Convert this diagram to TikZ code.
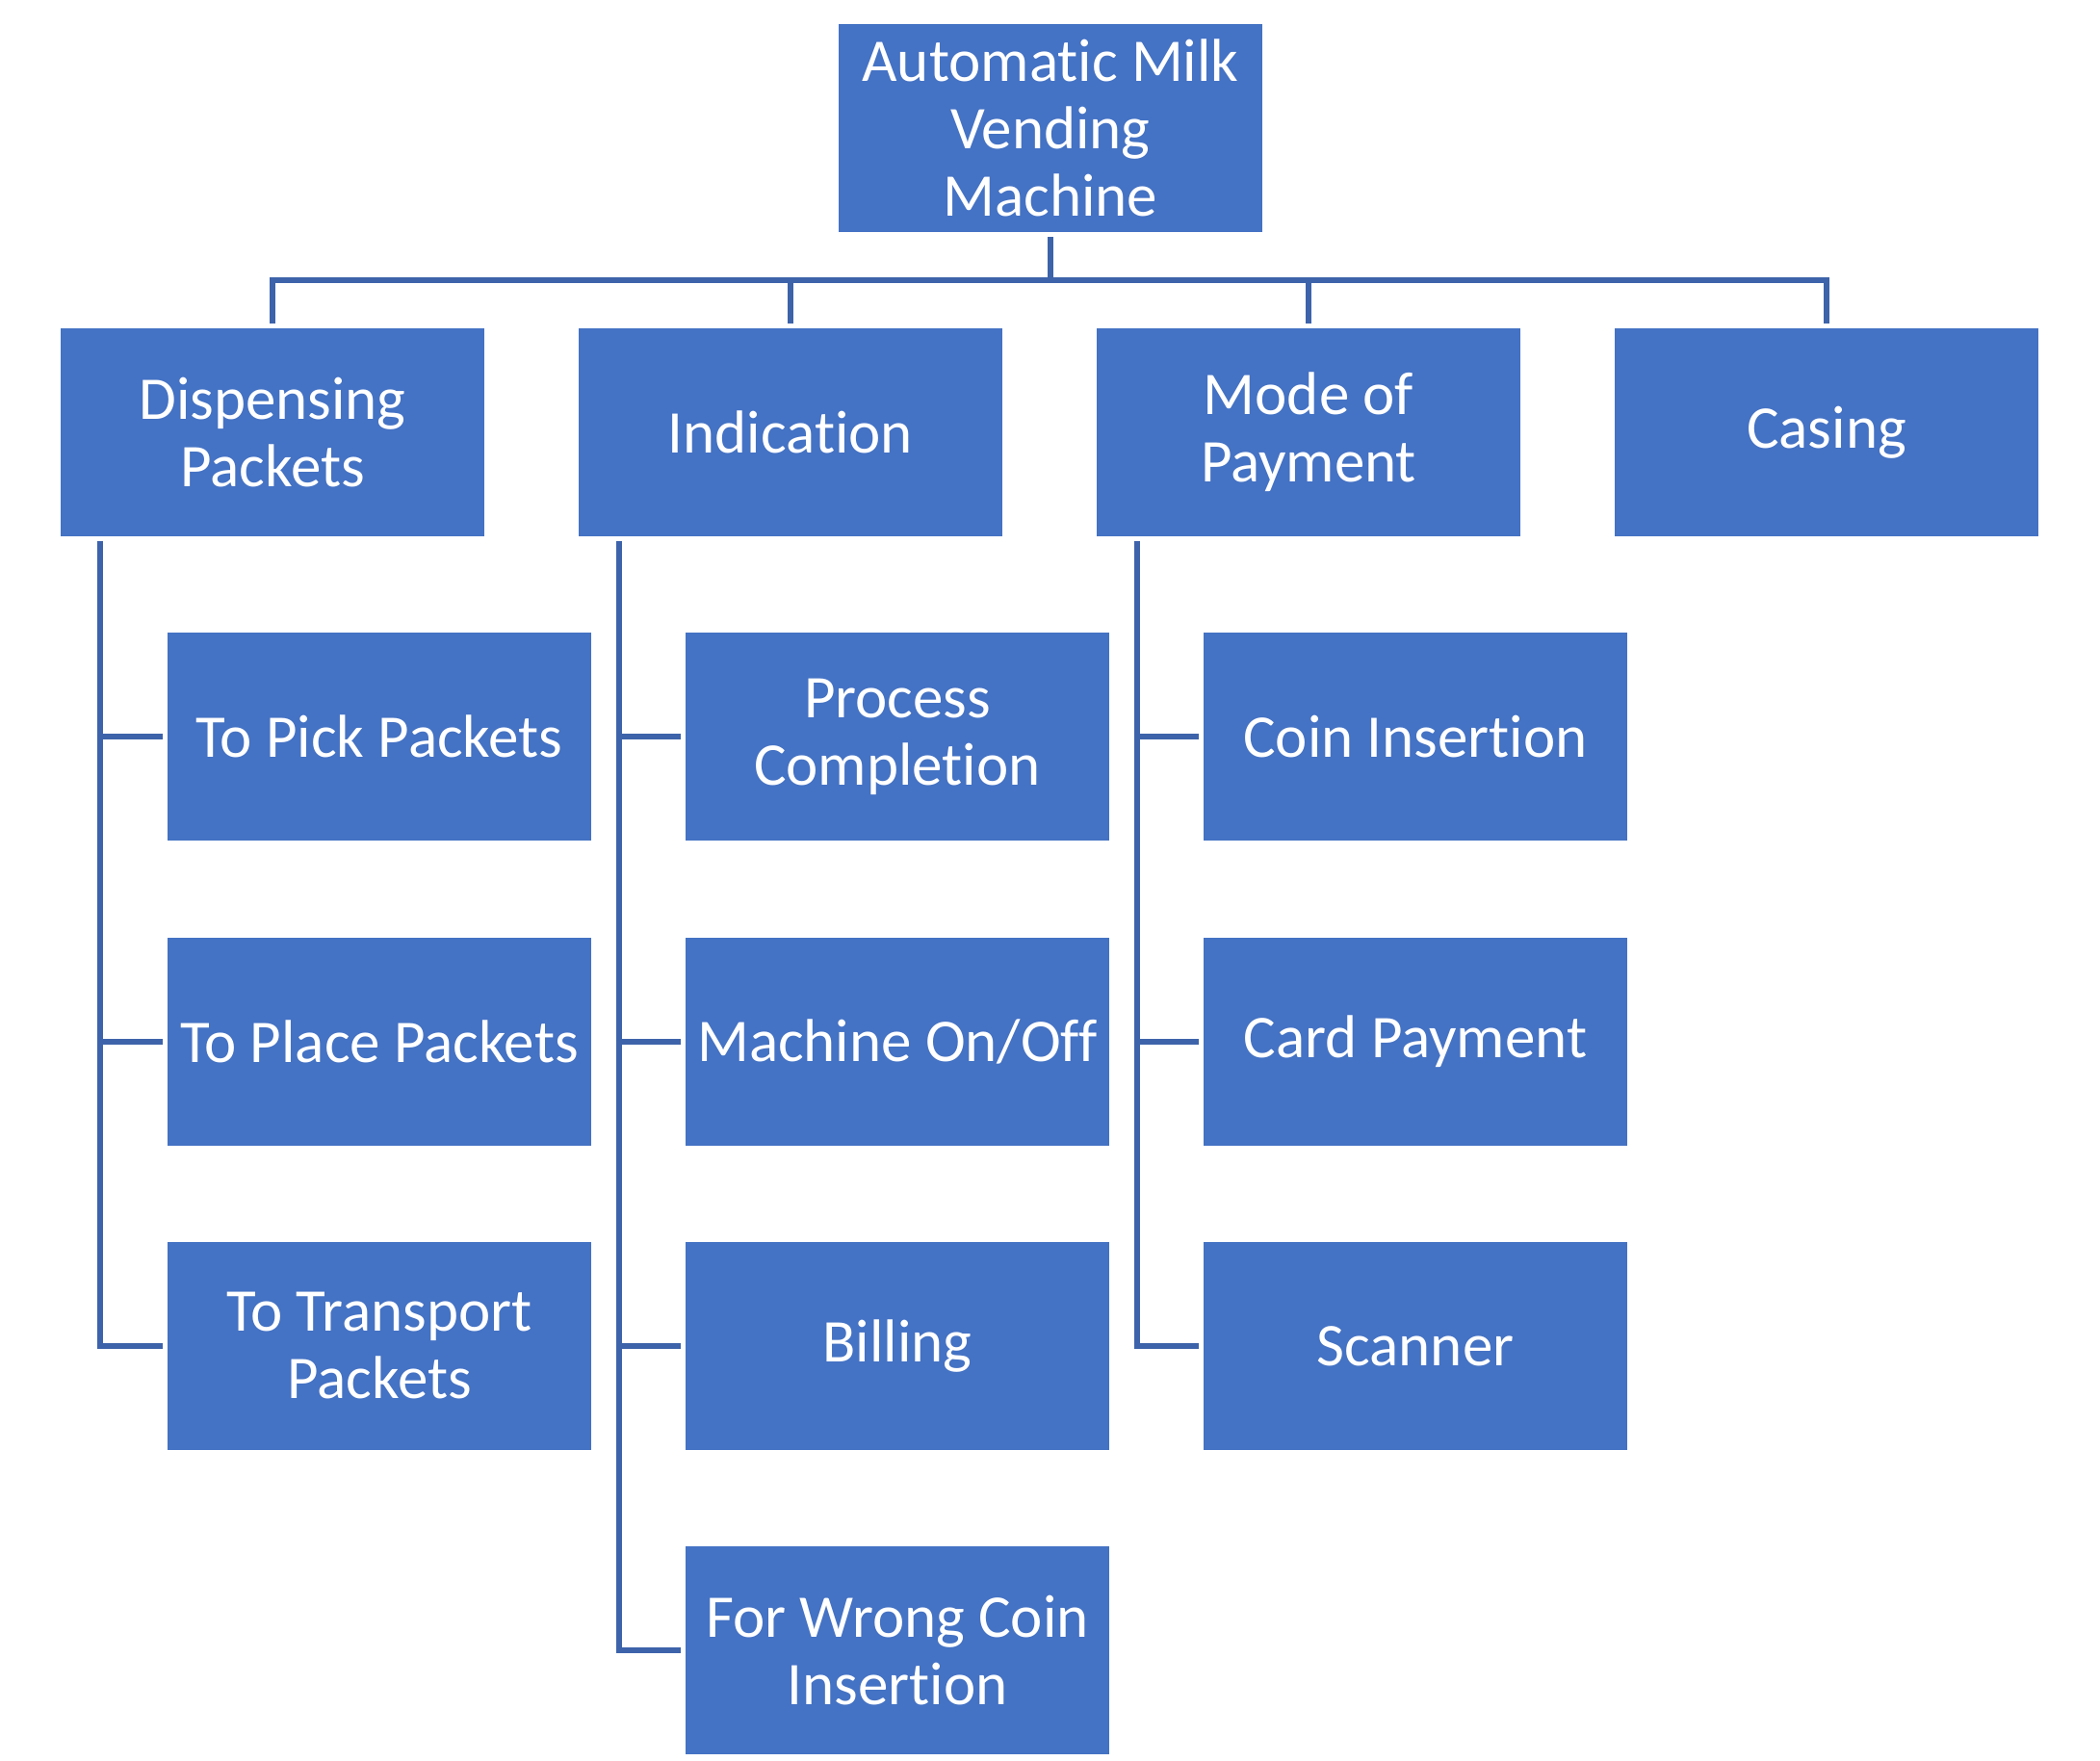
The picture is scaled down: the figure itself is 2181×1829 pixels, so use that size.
\documentclass[tikz,border=0pt]{standalone}
\usepackage{fontspec}
\setmainfont{Carlito}[Ligatures=NoCommon]
\definecolor{boxblue}{HTML}{4472C4}
\definecolor{lineblue}{HTML}{3D63AA}
\begin{document}
\begin{tikzpicture}[x=0.5pt,y=-0.5pt,
  box/.style={fill=boxblue,draw=none,text=white,minimum width=220pt,minimum height=108pt,
    inner sep=0pt,align=center,font=\fontsize{31.5pt}{35pt}\selectfont},
  conn/.style={draw=lineblue,line width=2.6pt,shorten <=2.5pt,shorten >=2.5pt}]
\useasboundingbox (0,0) rectangle (2181,1829);
% top
\node[box] (top) at (1091,133) {Automatic Milk\\Vending\\Machine};
% level 1
\node[box] (disp) at (283,449) {Dispensing\\Packets};
\node[box] (ind) at (821,449) {Indication};
\node[box] (mode) at (1359,449) {Mode of\\Payment};
\node[box] (cas) at (1897,449) {Casing};
% children of Dispensing
\node[box] (d1) at (394,765) {To Pick Packets};
\node[box] (d2) at (394,1082) {To Place Packets};
\node[box] (d3) at (394,1398) {To Transport\\Packets};
% children of Indication
\node[box] (i1) at (932,765) {Process\\Completion};
\node[box] (i2) at (932,1082) {Machine On/Off};
\node[box] (i3) at (932,1398) {Billing};
\node[box] (i4) at (932,1714) {For Wrong Coin\\Insertion};
% children of Mode of Payment
\node[box] (m1) at (1470,765) {Coin Insertion};
\node[box] (m2) at (1470,1082) {Card Payment};
\node[box] (m3) at (1470,1398) {Scanner};
% bus
\coordinate (bus) at (0,291);
\foreach \n in {disp,ind,mode,cas}{
  \draw[conn] (top.south) -- (top.south |- bus) -| (\n.north);
}
% spines
\coordinate (sd) at (104,0);
\coordinate (si) at (643,0);
\coordinate (sm) at (1181,0);
\foreach \c in {d1,d2,d3}{
  \draw[conn,line join=miter] (disp.south -| sd) |- (\c.west);
}
\foreach \c in {i1,i2,i3,i4}{
  \draw[conn,line join=miter] (ind.south -| si) |- (\c.west);
}
\foreach \c in {m1,m2,m3}{
  \draw[conn,line join=miter] (mode.south -| sm) |- (\c.west);
}
\end{tikzpicture}
\end{document}
